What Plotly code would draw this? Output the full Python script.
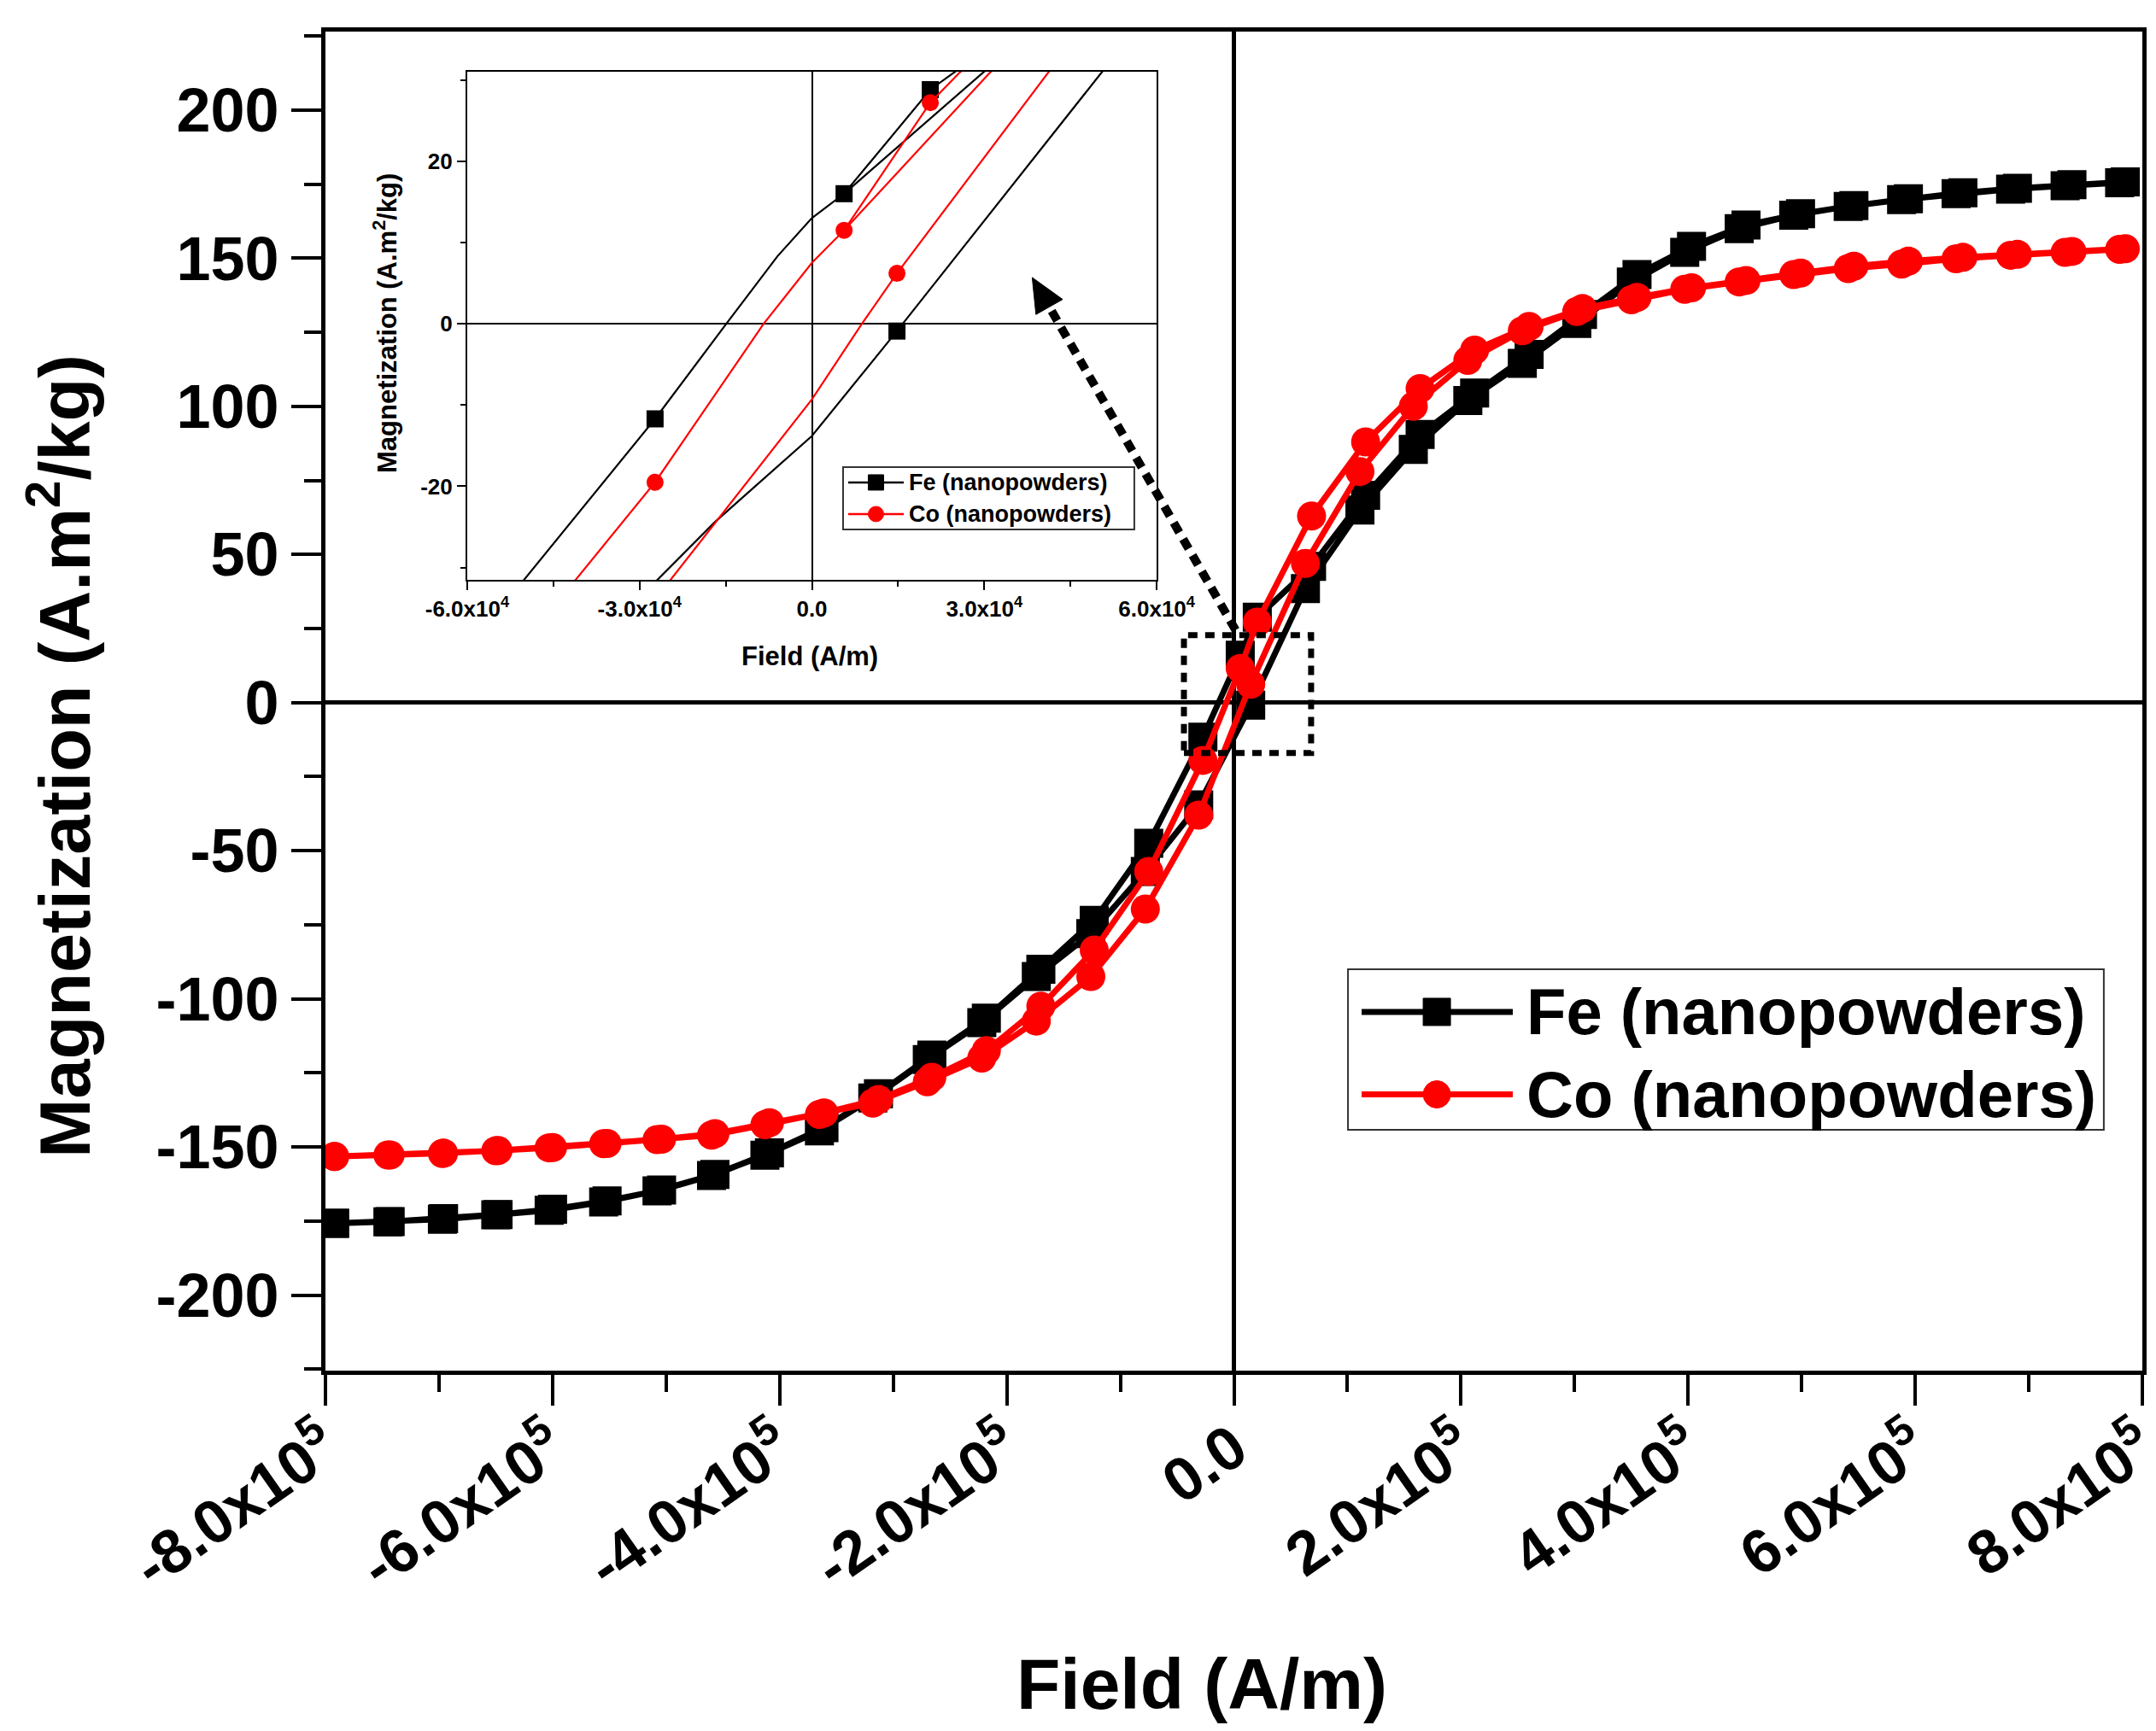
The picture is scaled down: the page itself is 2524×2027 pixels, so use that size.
import plotly.graph_objects as go

# hysteresis loops, field in A/m, magnetization in A.m2/kg
# descending branch (+H -> -H)
desc_h = [785000, 738000, 690000, 642000, 594000, 546000, 499000, 451000, 403000,
          355000, 307000, 260000, 212000, 164000, 116000, 68400, 20600, 5600,
          -27300, -75000, -123000, -170000, -218000, -266000, -313000, -361000,
          -409000, -457000, -504000, -552000, -600000, -648000, -696000, -743000, -792000]
fe_desc_m = [175.8, 174.8, 173.6, 172.1, 170.1, 167.8, 165.0, 161.2, 154.0,
             144.5, 131.0, 117.5, 104.5, 90.5, 70.0, 46.0, 28.8, 16.0,
             -11.7, -47.5, -73.5, -90.0, -106.5, -119.0, -132.0, -143.5,
             -152.0, -159.3, -164.5, -168.2, -171.0, -172.8, -174.2, -175.2, -175.8]
co_desc_m = [153.2, 152.3, 151.3, 150.3, 149.0, 147.3, 145.0, 142.5, 140.0,
             136.8, 133.0, 127.0, 119.0, 106.0, 88.0, 63.0, 27.2, 11.5,
             -19.5, -57.0, -83.5, -102.5, -117.5, -126.5, -134.0, -138.5,
             -141.8, -145.5, -147.4, -148.8, -150.2, -151.2, -152.1, -152.7, -153.2]

# ascending branch (-H -> +H)
asc_h = [-792000, -745000, -697000, -650000, -603000, -555000, -508000, -460000,
         -413000, -365000, -318000, -270000, -222000, -174000, -126000, -78000,
         -31000, 14800, 63000, 111000, 158000, 206000, 254000, 302000, 350000,
         397000, 445000, 493000, 541000, 588000, 636000, 684000, 732000, 780000]
fe_asc_m = [-175.8, -175.3, -174.4, -172.9, -171.4, -168.6, -164.8, -159.6,
            -152.8, -144.6, -133.5, -120.5, -108.0, -92.5, -78.0, -57.0,
            -34.5, -0.9, 38.5, 65.0, 85.5, 102.0, 114.5, 128.0, 142.0,
            152.0, 160.0, 164.5, 167.5, 169.8, 171.8, 173.3, 174.5, 175.5]
co_asc_m = [-153.2, -152.7, -152.2, -151.3, -150.3, -148.9, -147.5, -146.0,
            -142.5, -139.0, -135.2, -128.0, -120.0, -107.5, -92.5, -69.7,
            -38.0, 6.2, 47.0, 78.0, 100.0, 115.5, 125.5, 132.0, 136.0,
            139.5, 142.0, 144.5, 146.5, 148.0, 149.8, 151.0, 152.0, 153.0]

# finer trace of the loop near the origin (inset)
fe_inset_h = [33000, 25300, 20600, 5600, 0, -6000, -14900, -27300, -50100, -54000,
              -29000, -26900, -16900, 0, 14800, 50400, 54000, None, 5600, 29900, 34000]
fe_inset_m = [34.0, 31.2, 28.8, 16.0, 13.0, 8.3, 0.0, -11.7, -31.5, -34.5,
              -33.0, -31.5, -24.4, -13.8, -0.9, 30.9, 34.0, None, 16.0, 30.9, 33.5]
co_inset_h = [30000, 25700, 20600, 5600, 0, -8400, -27300, -41200, -44000,
              -27000, -24600, 0, 8700, 14800, 41100, 44000, None, 5600, 31000, 34000]
co_inset_m = [33.4, 30.9, 27.2, 11.5, 7.5, 0.0, -19.5, -31.5, -34.0,
              -34.0, -31.5, -9.3, 0.0, 6.2, 30.9, 33.6, None, 11.5, 30.9, 33.2]

names = ["Fe (nanopowders)", "Co (nanopowders)"]
colors = ["black", "#ff0000"]
symbols = ["square", "circle"]

main_xticks = [-800000, -600000, -400000, -200000, 0, 200000, 400000, 600000, 800000]
main_xtext = ["-8.0x10<sup>5</sup>", "-6.0x10<sup>5</sup>", "-4.0x10<sup>5</sup>",
              "-2.0x10<sup>5</sup>", "0.0", "2.0x10<sup>5</sup>", "4.0x10<sup>5</sup>",
              "6.0x10<sup>5</sup>", "8.0x10<sup>5</sup>"]
main_yticks = [-200, -150, -100, -50, 0, 50, 100, 150, 200]
main_ytext = ["-200", "-150", "-100", "-50", "0", "50", "100", "150", "200"]
inset_xticks = [-60000, -30000, 0, 30000, 60000]
inset_xtext = ["-6.0x10<sup>4</sup>", "-3.0x10<sup>4</sup>", "0.0",
               "3.0x10<sup>4</sup>", "6.0x10<sup>4</sup>"]
inset_yticks = [-20, 0, 20]
inset_ytext = ["-20", "0", "20"]

fig = go.Figure()

loops = [(fe_desc_m + fe_asc_m, fe_inset_h, fe_inset_m),
         (co_desc_m + co_asc_m, co_inset_h, co_inset_m)]
for i, (m, ih, im) in enumerate(loops):
    fig.add_trace(go.Scatter(x=desc_h + asc_h, y=m, mode="lines+markers",
                             line=dict(color=colors[i], width=7),
                             marker=dict(symbol=symbols[i], size=34, color=colors[i]),
                             showlegend=False))
for i, (m, ih, im) in enumerate(loops):
    fig.add_trace(go.Scatter(x=ih, y=im, mode="lines", xaxis="x2", yaxis="y2",
                             line=dict(color=colors[i], width=2.2), showlegend=False))
    fig.add_trace(go.Scatter(x=desc_h + asc_h, y=m, mode="markers", xaxis="x2", yaxis="y2",
                             marker=dict(symbol=symbols[i], size=20, color=colors[i]),
                             showlegend=False))

font_x = dict(family="Liberation Sans", size=72, color="black", weight="bold")
font_y = dict(family="Liberation Sans", size=72, color="black", weight="bold")
font_in = dict(family="Liberation Sans", size=26, color="black", weight="bold")

fig.update_layout(
    width=2524, height=2027, template="none",
    margin=dict(l=373, r=24, t=29, b=430),
    paper_bgcolor="white", plot_bgcolor="white",
    xaxis=dict(range=[-800000, 800000], tickvals=main_xticks, ticktext=main_xtext,
               tickangle=-35, tickfont=font_x, ticks="outside", ticklen=36,
               tickwidth=4, tickcolor="black", showgrid=False, ticklabeloverflow="allow",
               ticklabelstandoff=-20,
               minor=dict(dtick=100000, ticks="outside", ticklen=20, tickwidth=4,
                          tickcolor="black", showgrid=False),
               showline=True, linewidth=5, linecolor="black", mirror=True,
               zeroline=True, zerolinewidth=5, zerolinecolor="black", automargin=False),
    yaxis=dict(range=[-225.5, 226.5], tickvals=main_yticks, ticktext=main_ytext,
               tickfont=font_y, ticks="outside", ticklen=35, tickwidth=4,
               tickcolor="black", showgrid=False,
               minor=dict(dtick=25, ticks="outside", ticklen=20, tickwidth=4,
                          tickcolor="black", showgrid=False),
               showline=True, linewidth=5, linecolor="black", mirror=True,
               zeroline=True, zerolinewidth=5, zerolinecolor="black", automargin=False),
    xaxis2=dict(domain=[0.078, 0.4575], anchor="y2", range=[-60000, 60000],
                tickvals=inset_xticks, ticktext=inset_xtext, tickfont=font_in,
                ticks="outside", ticklen=10, tickwidth=2, tickcolor="black", showgrid=False,
                minor=dict(dtick=15000, ticks="outside", ticklen=6, tickwidth=2,
                           tickcolor="black", showgrid=False),
                showline=True, linewidth=2, linecolor="black", mirror=True,
                zeroline=True, zerolinewidth=2, zerolinecolor="black", automargin=False),
    yaxis2=dict(domain=[0.5906, 0.970], anchor="x2", range=[-31.5, 31],
                tickvals=inset_yticks, ticktext=inset_ytext, tickfont=font_in,
                ticks="outside", ticklen=10, tickwidth=2, tickcolor="black", showgrid=False,
                minor=dict(dtick=10, ticks="outside", ticklen=6, tickwidth=2,
                           tickcolor="black", showgrid=False),
                showline=True, linewidth=2, linecolor="black", mirror=True,
                zeroline=True, zerolinewidth=2, zerolinecolor="black", automargin=False),
)

# axis titles
titles = [
    ("<b>Field (A/m)</b>", 0.4824, -0.234, 0, 84),
    ("<b>Magnetization (A.m<sup>2</sup>/kg)</b>", -0.146, 0.459, -90, 83),
    ("<b>Field (A/m)</b>", 0.2666, 0.5338, 0, 31),
    ("<b>Magnetization (A.m<sup>2</sup>/kg)</b>", 0.0329, 0.7825, -90, 31),
]
for txt, tx, ty, ang, sz in titles:
    fig.add_annotation(text=txt, xref="paper", yref="paper", x=tx, y=ty, textangle=ang,
                       xanchor="center", yanchor="middle", showarrow=False,
                       font=dict(family="Liberation Sans", size=sz, color="black"))

# dotted zoom box and arrow to the inset
fig.add_shape(type="rect", xref="x", yref="y", x0=-44000, x1=68000, y0=-17, y1=22.8,
              line=dict(color="black", width=7, dash="11px,9px"))
fig.add_shape(type="line", xref="x", yref="y", x0=1500, y0=24.5, x1=-162500, y1=133.5,
              line=dict(color="black", width=10, dash="13px,9px"))
fig.add_shape(type="path", xref="x", yref="y",
              path="M -177600,143.5 L -150800,136.1 L -174300,131.0 Z",
              fillcolor="black", line=dict(color="black", width=1))


def draw_legend(box, rows, line_x, mark_x, text_x, lw, msize, fsize):
    fig.add_shape(type="rect", xref="paper", yref="paper", x0=box[0], x1=box[1],
                  y0=box[2], y1=box[3], line=dict(color="#333333", width=2),
                  fillcolor="white", layer="above")
    for i, yy in enumerate(rows):
        fig.add_shape(type="line", xref="paper", yref="paper", x0=line_x[0], x1=line_x[1],
                      y0=yy, y1=yy, line=dict(color=colors[i], width=lw))
        kind = "rect" if symbols[i] == "square" else "circle"
        fig.add_shape(type=kind, xref="paper", yref="paper", xsizemode="pixel",
                      ysizemode="pixel", xanchor=mark_x, yanchor=yy,
                      x0=-msize / 2, x1=msize / 2, y0=-msize / 2, y1=msize / 2,
                      fillcolor=colors[i], line=dict(color=colors[i], width=1))
        fig.add_annotation(text="<b>" + names[i] + "</b>", xref="paper", yref="paper",
                           x=text_x, y=yy, xanchor="left", yanchor="middle", showarrow=False,
                           font=dict(family="Liberation Sans", size=fsize, color="black"))


draw_legend([0.5628, 0.9788, 0.1798, 0.2997], [0.2679, 0.2063],
            [0.5703, 0.6535], 0.6117, 0.6600, 7, 32, 76)
draw_legend([0.2849, 0.4452, 0.6282, 0.6747], [0.6633, 0.6397],
            [0.2877, 0.3183], 0.3030, 0.3200, 2.5, 18, 27)

fig.write_html("out.html")
